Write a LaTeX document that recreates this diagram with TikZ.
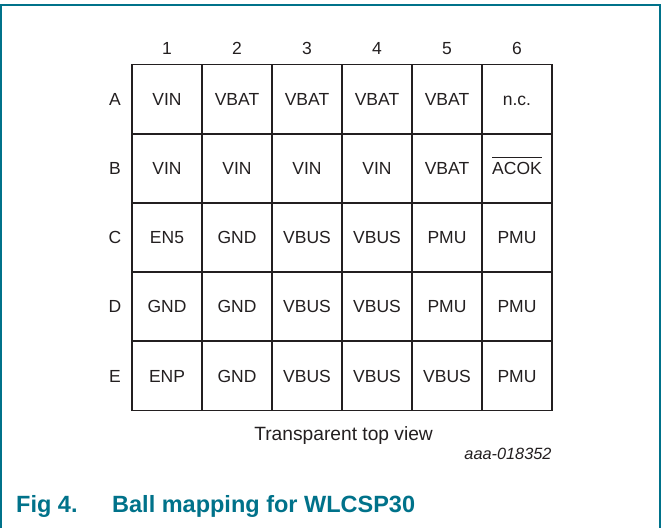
\documentclass[tikz,border=0pt]{standalone}
\usepackage{fontspec}
\setmainfont{Liberation Sans}
\definecolor{teal}{RGB}{0,114,138}
\definecolor{ink}{RGB}{35,31,32}
\begin{document}
\begin{tikzpicture}[x=1pt,y=-1pt,
  cell/.style={draw=ink,line width=1.8pt,minimum width=70pt,minimum height=69.2pt,inner sep=0pt,
    text=ink,font=\fontsize{17.5}{21}\selectfont,text height=12.5pt,text depth=0pt,anchor=center},
  lbl/.style={text=ink,font=\fontsize{17.5}{21}\selectfont,inner sep=0pt,text height=12.5pt,text depth=0pt,anchor=center}]
\useasboundingbox (0,0) rectangle (662,528);
\fill[white] (0,0) rectangle (662,528);
\draw[teal,line width=2pt] (1,528) -- (1,5.3) -- (660,5.3) -- (660,528);
\newcommand{\ovl}[1]{{\setbox0\hbox{#1}\rlap{\raisebox{16.6pt}{\rule{\wd0}{0.9pt}}}\box0}}
% column labels
\foreach \c [count=\i from 0] in {1,...,6}
  \node[lbl] (col\c) at (167+70*\i,48) {\c};
% row labels and cells
\foreach \r/\ra/\rb/\rc/\rd/\re/\rf [count=\j from 0] in {
  A/VIN/VBAT/VBAT/VBAT/VBAT/n.c.,
  B/VIN/VIN/VIN/VIN/VBAT/\ovl{ACOK},
  C/EN5/GND/VBUS/VBUS/PMU/PMU,
  D/GND/GND/VBUS/VBUS/PMU/PMU,
  E/ENP/GND/VBUS/VBUS/VBUS/PMU} {
  \node[lbl] (row\r) at (115,99.1+69.2*\j) {\r};
  \node[cell] (\r1) at (167,99.1+69.2*\j) {\ra};
  \node[cell] (\r2) at (237,99.1+69.2*\j) {\rb};
  \node[cell] (\r3) at (307,99.1+69.2*\j) {\rc};
  \node[cell] (\r4) at (377,99.1+69.2*\j) {\rd};
  \node[cell] (\r5) at (447,99.1+69.2*\j) {\re};
  \node[cell] (\r6) at (517,99.1+69.2*\j) {\rf};
}
\node[text=ink,font=\fontsize{19.2}{23}\selectfont,inner sep=0pt,anchor=base] (view) at (343.6,440.7) {Transparent top view};
\node[text=ink,font=\fontsize{16.3}{19}\selectfont\itshape,inner sep=0pt,anchor=base east] (code) at (551.7,459.3) {aaa-018352};
\node[text=teal,font=\fontsize{23.5}{28}\selectfont\bfseries,inner sep=0pt,anchor=base west] (fig) at (16,512.7) {Fig 4.};
\node[text=teal,font=\fontsize{23.5}{28}\selectfont\bfseries,inner sep=0pt,anchor=base west] (title) at (112,512.7) {Ball mapping for WLCSP30};
\end{tikzpicture}
\end{document}
